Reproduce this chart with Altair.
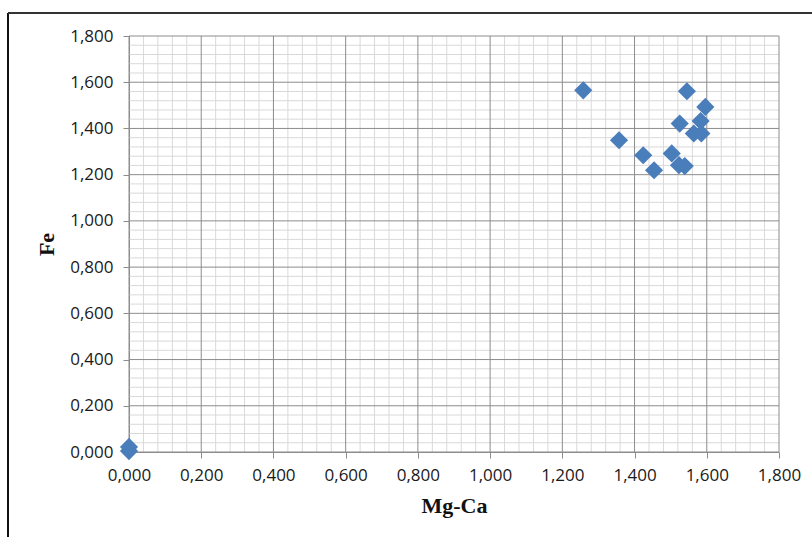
import altair as alt
import pandas as pd

# Data
mg_ca = [0.0, 0.0, 1.258, 1.545, 1.596, 1.525, 1.583, 1.564, 1.585, 1.357, 1.424, 1.503, 1.454, 1.523, 1.539]
fe = [0.022, 0.004, 1.565, 1.561, 1.493, 1.421, 1.432, 1.378, 1.378, 1.349, 1.284, 1.292, 1.219, 1.241, 1.237]

major_ticks = [0.0, 0.2, 0.4, 0.6, 0.8, 1.0, 1.2, 1.4, 1.6, 1.8]
minor_ticks = [0.04, 0.08, 0.12, 0.16, 0.24, 0.28, 0.32, 0.36, 0.44, 0.48, 0.52, 0.56,
               0.64, 0.68, 0.72, 0.76, 0.84, 0.88, 0.92, 0.96, 1.04, 1.08, 1.12, 1.16,
               1.24, 1.28, 1.32, 1.36, 1.44, 1.48, 1.52, 1.56, 1.64, 1.68, 1.72, 1.76]

pts = pd.DataFrame({"Mg-Ca": mg_ca, "Fe": fe})
minor = pd.DataFrame({"v": minor_ticks})
major = pd.DataFrame({"v": major_ticks})

xs = alt.Scale(domain=[0, 1.8], nice=False, zero=False)
ys = alt.Scale(domain=[0, 1.8], nice=False, zero=False)

label_expr = "replace(format(datum.value, '.3f'), '.', ',')"
x_axis = alt.Axis(values=major_ticks, labelExpr=label_expr, grid=False, labelFlush=False)
y_axis = alt.Axis(values=major_ticks, labelExpr=label_expr, grid=False, labelFlush=False)

minor_x = alt.Chart(minor).mark_rule(color="#d9d9d9", strokeWidth=1).encode(
    x=alt.X("v:Q", scale=xs, axis=x_axis, title="Mg-Ca"))
minor_y = alt.Chart(minor).mark_rule(color="#d9d9d9", strokeWidth=1).encode(
    y=alt.Y("v:Q", scale=ys, axis=y_axis, title="Fe"))
major_x = alt.Chart(major).mark_rule(color="#8c8c8c", strokeWidth=1).encode(
    x=alt.X("v:Q", scale=xs, axis=x_axis, title="Mg-Ca"))
major_y = alt.Chart(major).mark_rule(color="#8c8c8c", strokeWidth=1).encode(
    y=alt.Y("v:Q", scale=ys, axis=y_axis, title="Fe"))

points = alt.Chart(pts).mark_point(
    shape="diamond", filled=True, size=330, color="#4a7ebb", opacity=1
).encode(
    x=alt.X("Mg-Ca:Q", scale=xs, title="Mg-Ca", axis=x_axis),
    y=alt.Y("Fe:Q", scale=ys, title="Fe", axis=y_axis),
)

border = pd.DataFrame({"a": [0]})
left_border = alt.Chart(border).mark_rule(color="#111111", strokeWidth=2).encode(
    x=alt.value(-121), y=alt.value(-23), y2=alt.value(510))
top_border = alt.Chart(border).mark_rule(color="#333333", strokeWidth=2).encode(
    x=alt.value(-121), x2=alt.value(700), y=alt.value(-23))

chart = alt.layer(minor_x, minor_y, major_x, major_y, points, left_border, top_border).properties(
    width=650, height=416,
    padding={"left": 129, "top": 36, "right": 33, "bottom": 85},
    autosize=alt.AutoSizeParams(type="none"),
).configure_view(stroke=None).configure_axis(
    labelFont="Open Sans", labelFontSize=17, labelColor="#1a1a1a",
    domainColor="#8c8c8c", tickColor="#8c8c8c", tickSize=6,
    titleFont="Liberation Serif", titleFontSize=22, titleFontWeight="bold", titleColor="#111111",
).configure_axisX(labelPadding=9, titlePadding=12).configure_axisY(labelPadding=10, titlePadding=11)

chart.save("out.html", embed_options={"renderer": "svg", "actions": False})
